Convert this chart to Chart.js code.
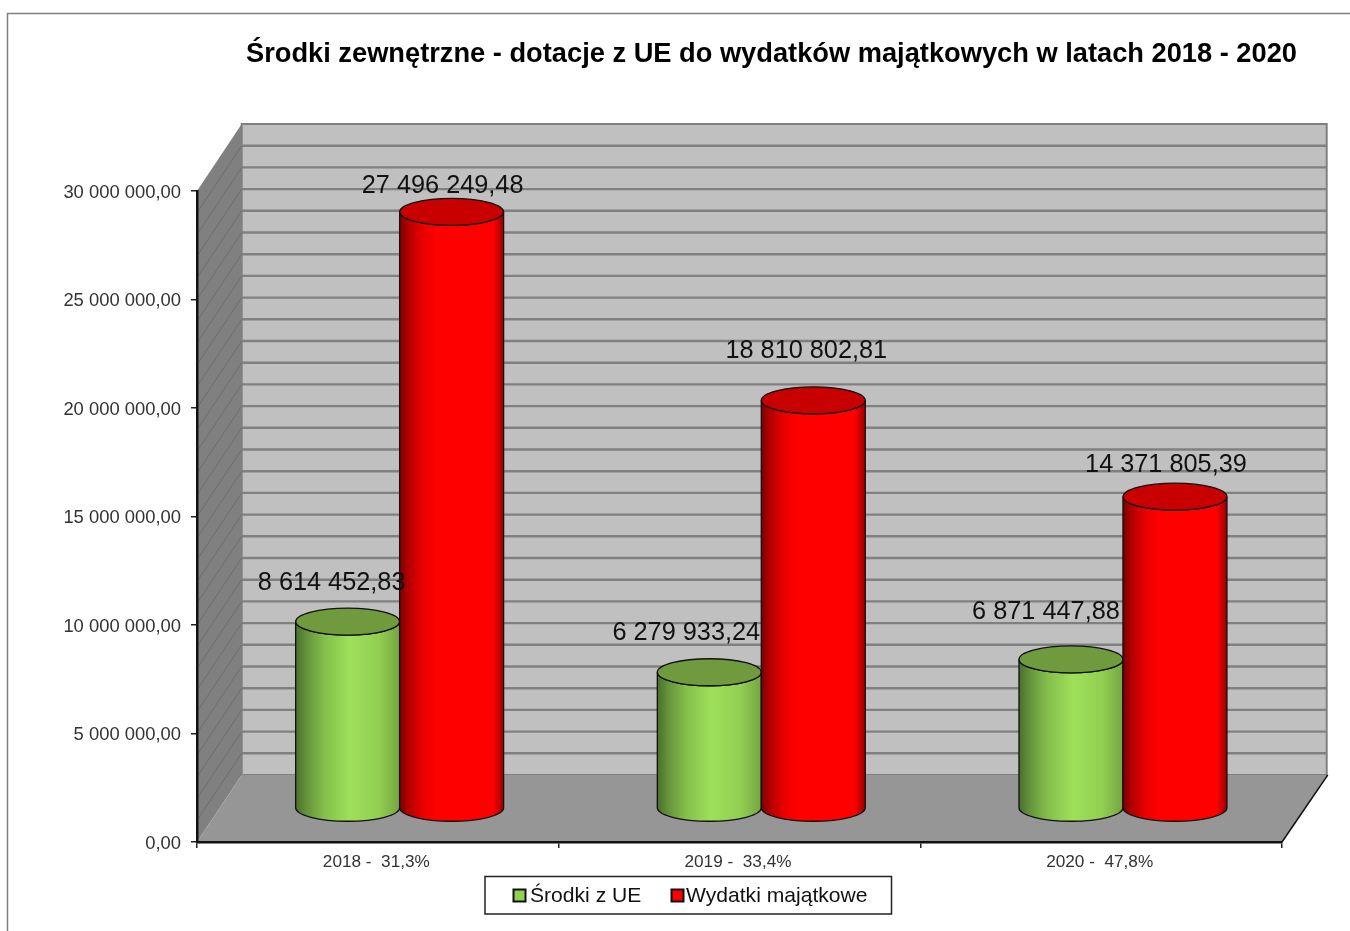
<!DOCTYPE html>
<html lang="pl">
<head>
<meta charset="utf-8">
<title>Środki zewnętrzne</title>
<script src="https://cdn.jsdelivr.net/npm/chart.js@4"></script>
<style>
    html, body { margin: 0; padding: 0; background: #fff; overflow: hidden; }
    #wrap { width: 1350px; height: 931px; position: relative; }
</style>
</head>
<body>
<div id="wrap"><canvas id="chart" width="1350" height="931"></canvas></div>
<script>
// Dane
const chartTitle = "Środki zewnętrzne - dotacje z UE do wydatków majątkowych w latach 2018 - 2020";
const categories = ["2018 -  31,3%", "2019 -  33,4%", "2020 -  47,8%"];
const seriesNames = ["Środki z UE", "Wydatki majątkowe"];
const grants = [8614452.83, 6279933.24, 6871447.88];
const assetSpending = [27496249.48, 18810802.81, 14371805.39];

// Wygląd "3D"
const FONT = '"Liberation Sans", Arial, sans-serif';
const wallDepth = { x: 44.7, y: 67 };
const barDepth = { x: 21.8, y: 33.5 };
const capRadius = 13.5;
const minorStep = 1000000;

// Etykiety były ręcznie przesuwane w oryginale (dx, dy od środka wieczka)
const grantLabelNudge = [[-16, -39], [-23, -39], [-25, -47]];
const spendingLabelNudge = [[-9, -26], [-7, -49], [-9, -32]];

const barStyles = [
    { stops: [[0, "#4a6e2c"], [0.1, "#64923b"], [0.28, "#85bf4c"], [0.52, "#9ee05a"], [0.8, "#92cf52"], [1, "#74a542"]], cap: "#6f9b3e" },
    { stops: [[0, "#7a0000"], [0.08, "#b00000"], [0.22, "#ea0000"], [0.36, "#ff0000"], [0.9, "#ff0000"], [1, "#960000"]], cap: "#c80000" }
];

function formatPl(value) {
    const [whole, frac] = value.toFixed(2).split(".");
    return whole.replace(/\B(?=(\d{3})+(?!\d))/g, " ") + "," + frac;
}

function polygon(ctx, pts, fill, stroke, lineWidth) {
    ctx.beginPath();
    pts.forEach((p, i) => i ? ctx.lineTo(p[0], p[1]) : ctx.moveTo(p[0], p[1]));
    ctx.closePath();
    ctx.fillStyle = fill;
    ctx.fill();
    if (stroke) {
        ctx.strokeStyle = stroke;
        ctx.lineWidth = lineWidth;
        ctx.stroke();
    }
}

// Ściany, podłoga, ramka, tytuł i legenda
const sceneryPlugin = {
    id: "scenery",
    beforeDraw(chart) {
        const { ctx, chartArea: a, scales } = chart;
        const d = wallDepth;
        ctx.save();
        ctx.fillStyle = "#fff";
        ctx.fillRect(0, 0, chart.width, chart.height);

        // ramka obrazka
        ctx.strokeStyle = "#808080";
        ctx.lineWidth = 1.5;
        ctx.beginPath();
        ctx.moveTo(7.5, 931);
        ctx.lineTo(7.5, 13.5);
        ctx.lineTo(1350, 13.5);
        ctx.stroke();

        // tylna ściana
        polygon(ctx, [[a.left + d.x, a.top - d.y], [a.right + d.x, a.top - d.y], [a.right + d.x, a.bottom - d.y], [a.left + d.x, a.bottom - d.y]], "#c0c0c0", "#808080", 2);
        // lewa ściana
        polygon(ctx, [[a.left, a.top], [a.left + d.x, a.top - d.y], [a.left + d.x, a.bottom - d.y], [a.left, a.bottom]], "#808080");

        for (let v = minorStep; v < scales.y.max; v += minorStep) {
            const y = scales.y.getPixelForValue(v);
            ctx.strokeStyle = "#808080";
            ctx.lineWidth = 2.4;
            ctx.beginPath();
            ctx.moveTo(a.left + d.x, y - d.y);
            ctx.lineTo(a.right + d.x, y - d.y);
            ctx.stroke();
            ctx.strokeStyle = "#6f6f6f";
            ctx.lineWidth = 1;
            ctx.beginPath();
            ctx.moveTo(a.left, y);
            ctx.lineTo(a.left + d.x, y - d.y);
            ctx.stroke();
        }

        // podłoga
        polygon(ctx, [[a.left, a.bottom], [a.left + d.x, a.bottom - d.y], [a.right + d.x, a.bottom - d.y], [a.right, a.bottom]], "#969696");
        ctx.strokeStyle = "#111";
        ctx.lineWidth = 1.5;
        ctx.beginPath();
        ctx.moveTo(a.right, a.bottom);
        ctx.lineTo(a.right + d.x + 1, a.bottom - d.y);
        ctx.stroke();

        // tytuł
        ctx.fillStyle = "#000";
        ctx.font = "bold 27.25px " + FONT;
        ctx.textAlign = "left";
        ctx.textBaseline = "alphabetic";
        ctx.fillText(chartTitle, 246, 62);
        ctx.restore();
    },
    afterDraw(chart) {
        const { ctx } = chart;
        ctx.save();
        // legenda
        ctx.fillStyle = "#fff";
        ctx.strokeStyle = "#222";
        ctx.lineWidth = 1.5;
        ctx.fillRect(485, 876.5, 406.5, 37.5);
        ctx.strokeRect(485, 876.5, 406.5, 37.5);

        const entries = [
            { box: 513.5, text: 530, color: "#92d050" },
            { box: 671.5, text: 686, color: "#ff0000" }
        ];
        ctx.font = "21.1px " + FONT;
        ctx.textAlign = "left";
        ctx.textBaseline = "alphabetic";
        entries.forEach((e, i) => {
            ctx.fillStyle = e.color;
            ctx.fillRect(e.box, 889.5, 12, 12);
            ctx.strokeStyle = "#111";
            ctx.lineWidth = 2;
            ctx.strokeRect(e.box, 889.5, 12, 12);
            ctx.fillStyle = "#111";
            ctx.fillText(seriesNames[i], e.text, 902);
        });
        ctx.restore();
    }
};

// Walce rysowane na podstawie pozycji słupków Chart.js
function drawCylinder(ctx, el, style) {
    const cx = el.x + barDepth.x;
    const top = el.y - barDepth.y;
    const bottom = el.base - barDepth.y;
    const rx = el.width / 2;

    const grad = ctx.createLinearGradient(cx - rx, 0, cx + rx, 0);
    style.stops.forEach(s => grad.addColorStop(s[0], s[1]));

    ctx.beginPath();
    ctx.moveTo(cx - rx, top);
    ctx.lineTo(cx - rx, bottom);
    ctx.ellipse(cx, bottom, rx, capRadius, 0, Math.PI, 0, true);
    ctx.lineTo(cx + rx, top);
    ctx.ellipse(cx, top, rx, capRadius, 0, 0, Math.PI, false);
    ctx.closePath();
    ctx.fillStyle = grad;
    ctx.fill();
    ctx.strokeStyle = "#111";
    ctx.lineWidth = 1.3;
    ctx.stroke();

    ctx.beginPath();
    ctx.ellipse(cx, top, rx, capRadius, 0, 0, Math.PI * 2);
    ctx.fillStyle = style.cap;
    ctx.fill();
    ctx.stroke();
}

const cylinderPlugin = {
    id: "cylinders",
    afterDatasetsDraw(chart) {
        const { ctx } = chart;
        const metas = [chart.getDatasetMeta(0), chart.getDatasetMeta(1)];
        ctx.save();
        categories.forEach((_, i) => {
            metas.forEach((meta, s) => drawCylinder(ctx, meta.data[i], barStyles[s]));
        });

        // etykiety wartości nad walcami
        ctx.font = "25.3px " + FONT;
        ctx.fillStyle = "#111";
        ctx.textAlign = "center";
        ctx.textBaseline = "middle";
        [grantLabelNudge, spendingLabelNudge].forEach((nudge, s) => {
            metas[s].data.forEach((el, i) => {
                const value = chart.data.datasets[s].data[i];
                ctx.fillText(formatPl(value), el.x + barDepth.x + nudge[i][0], el.y - barDepth.y + nudge[i][1]);
            });
        });
        ctx.restore();
    }
};

new Chart(document.getElementById("chart").getContext("2d"), {
    type: "bar",
    data: {
        labels: categories,
        datasets: [
            { label: seriesNames[0], data: grants, backgroundColor: "rgba(0,0,0,0)" },
            { label: seriesNames[1], data: assetSpending, backgroundColor: "rgba(0,0,0,0)" }
        ]
    },
    options: {
        responsive: false,
        animation: false,
        events: [],
        layout: { padding: { top: 191, right: 68, left: 0, bottom: 0 } },
        datasets: { bar: { categoryPercentage: 0.575, barPercentage: 1 } },
        plugins: { legend: { display: false }, title: { display: false }, tooltip: { enabled: false } },
        scales: {
            x: {
                afterFit(scale) { scale.height = 89; },
                grid: { drawOnChartArea: false, tickLength: 6, color: "#222", lineWidth: 1.5 },
                border: { color: "#111", width: 2.5 },
                ticks: { color: "#333", font: { family: FONT, size: 17.2 }, padding: 4, labelOffset: -1.5, maxRotation: 0 }
            },
            y: {
                min: 0,
                max: 30000000,
                afterFit(scale) { scale.width = 197; },
                grid: { drawOnChartArea: false, tickLength: 6, color: "#222", lineWidth: 1.5 },
                border: { color: "#111", width: 2.5 },
                ticks: {
                    stepSize: 5000000,
                    color: "#333",
                    font: { family: FONT, size: 18.4 },
                    padding: 10,
                    labelOffset: 1.5,
                    callback: v => formatPl(v)
                }
            }
        }
    },
    plugins: [sceneryPlugin, cylinderPlugin]
});
</script>
</body>
</html>
